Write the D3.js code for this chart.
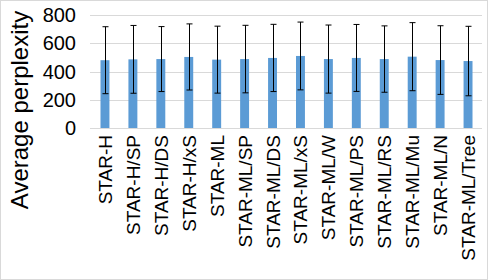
<!DOCTYPE html>
<html><head><meta charset="utf-8">
<script src="https://cdn.jsdelivr.net/npm/d3@7"></script>
<style>body{margin:0;background:#fff}svg{display:block}text{font-family:"Liberation Sans",Arial,sans-serif;fill:#000}</style>
</head><body>
<script>
const categories = ["STAR-H","STAR-H/SP","STAR-H/DS","STAR-H/xS","STAR-ML","STAR-ML/SP","STAR-ML/DS","STAR-ML/xS","STAR-ML/W","STAR-ML/PS","STAR-ML/RS","STAR-ML/Mu","STAR-ML/N","STAR-ML/Tree"];
const means = [480,486,488,503,484,488,496,510,488,496,488,505,481,474];
const errors = [237,240,230,234,237,239,238,240,241,237,235,241,243,246];
const yTicks = [0,200,400,600,800];
const yTitle = "Average perplexity";

const W = 488, H = 280;
const svg = d3.select("body").append("svg").attr("width", W).attr("height", H);
svg.append("rect").attr("x",0.5).attr("y",0.5).attr("width",W-1).attr("height",H-1)
  .attr("fill","#fff").attr("stroke","#d9d9d9");

const x = d3.scaleBand().domain(categories).range([91, 482]).paddingInner(0.68).paddingOuter(0.34);
const y = d3.scaleLinear().domain([0, 800]).range([128, 15]);

// gridlines
svg.append("g").selectAll("line").data(yTicks).join("line")
  .attr("x1", 90).attr("x2", 482)
  .attr("y1", d => Math.round(y(d)) + 0.5).attr("y2", d => Math.round(y(d)) + 0.5)
  .attr("stroke", "#d9d9d9").attr("stroke-width", 1);

// y tick labels
svg.append("g").selectAll("text").data(yTicks).join("text")
  .attr("x", 76).attr("y", d => y(d)).attr("dy", "0.36em")
  .attr("text-anchor", "end").attr("font-size", 20).text(d => d);

// bars
svg.append("g").selectAll("rect").data(categories).join("rect")
  .attr("x", (d) => x(d)).attr("width", x.bandwidth())
  .attr("y", (d,i) => y(means[i])).attr("height", (d,i) => y(0) - y(means[i]))
  .attr("fill", "#5b9bd5");

// error bars
const eg = svg.append("g").attr("stroke", "#000").attr("stroke-width", 1);
categories.forEach((c, i) => {
  const cx = Math.round(x(c) + x.bandwidth()/2) + 0.5;
  const hi = y(means[i] + errors[i]), lo = y(means[i] - errors[i]);
  eg.append("line").attr("x1", cx).attr("x2", cx).attr("y1", hi).attr("y2", lo);
  eg.append("line").attr("x1", cx-3).attr("x2", cx+3).attr("y1", hi).attr("y2", hi);
  eg.append("line").attr("x1", cx-3).attr("x2", cx+3).attr("y1", lo).attr("y2", lo);
});

// x labels
svg.append("g").selectAll("text").data(categories).join("text")
  .attr("transform", d => `translate(${x(d) + x.bandwidth()/2 + 7},135) rotate(-90)`)
  .attr("text-anchor", "end").attr("font-size", 19).text(d => d);

// y title
svg.append("text").attr("transform", "translate(28,110) rotate(-90)")
  .attr("text-anchor", "middle").attr("font-size", 24).text(yTitle);
</script>
</body></html>
